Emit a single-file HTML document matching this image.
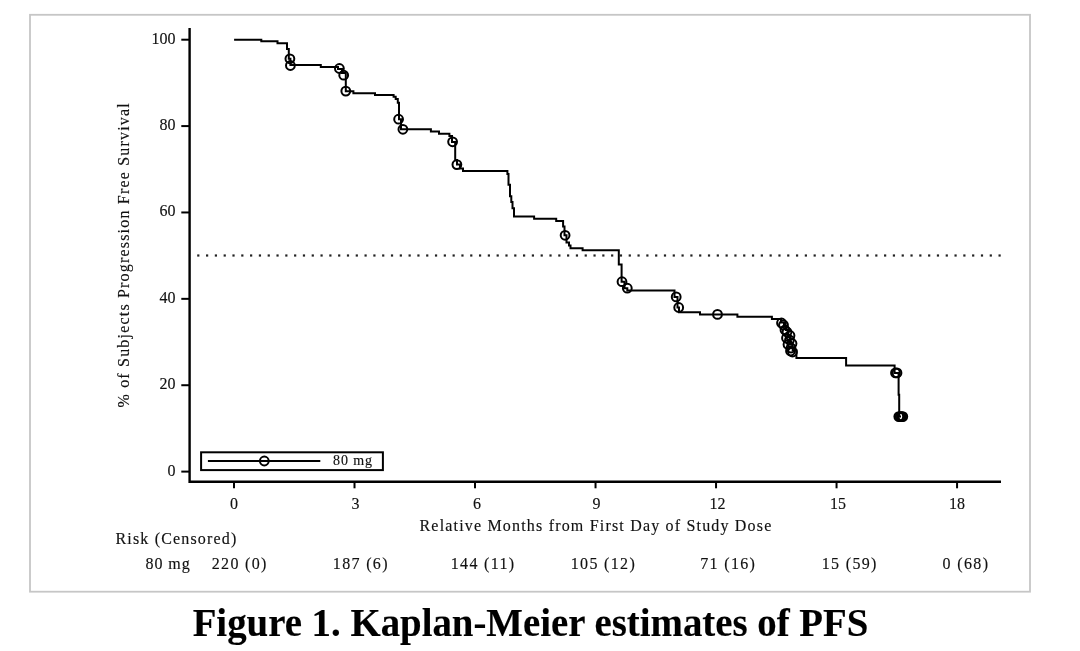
<!DOCTYPE html>
<html><head><meta charset="utf-8"><style>
html,body{margin:0;padding:0;background:#fff;width:1080px;height:651px;overflow:hidden}
svg{display:block;position:absolute;left:0;top:0;will-change:transform}
text{font-family:"Liberation Serif",serif;fill:#111;stroke:#111;stroke-width:0.15px}
</style></head><body>
<svg width="1080" height="651" viewBox="0 0 1080 651">
<rect x="30" y="14.8" width="1000" height="576.9" fill="none" stroke="#c6c6c6" stroke-width="1.8"/>
<g stroke="#000" stroke-width="2.4" fill="none">
<polyline points="189.6,28 189.6,481.8 1001,481.8"/>
</g>
<g stroke="#000" stroke-width="2" fill="none"><line x1="181.3" y1="471.60" x2="189.6" y2="471.60"/><line x1="181.3" y1="385.22" x2="189.6" y2="385.22"/><line x1="181.3" y1="298.84" x2="189.6" y2="298.84"/><line x1="181.3" y1="212.46" x2="189.6" y2="212.46"/><line x1="181.3" y1="126.08" x2="189.6" y2="126.08"/><line x1="181.3" y1="39.70" x2="189.6" y2="39.70"/><line x1="234.00" y1="481.8" x2="234.00" y2="488.3"/><line x1="354.51" y1="481.8" x2="354.51" y2="488.3"/><line x1="475.02" y1="481.8" x2="475.02" y2="488.3"/><line x1="595.53" y1="481.8" x2="595.53" y2="488.3"/><line x1="716.04" y1="481.8" x2="716.04" y2="488.3"/><line x1="836.55" y1="481.8" x2="836.55" y2="488.3"/><line x1="957.06" y1="481.8" x2="957.06" y2="488.3"/></g>
<g font-size="16"><text x="175.6" y="475.50" text-anchor="end">0</text><text x="175.6" y="389.12" text-anchor="end">20</text><text x="175.6" y="302.74" text-anchor="end">40</text><text x="175.6" y="216.36" text-anchor="end">60</text><text x="175.6" y="129.98" text-anchor="end">80</text><text x="175.6" y="43.60" text-anchor="end">100</text><text x="234.00" y="508.5" text-anchor="middle">0</text><text x="355.51" y="508.5" text-anchor="middle">3</text><text x="477.02" y="508.5" text-anchor="middle">6</text><text x="596.53" y="508.5" text-anchor="middle">9</text><text x="717.54" y="508.5" text-anchor="middle">12</text><text x="838.05" y="508.5" text-anchor="middle">15</text><text x="957.06" y="508.5" text-anchor="middle">18</text></g>
<g fill="#222"><rect x="197.20" y="254.4" width="2.2" height="2.2"/><rect x="206.01" y="254.4" width="2.2" height="2.2"/><rect x="214.81" y="254.4" width="2.2" height="2.2"/><rect x="223.62" y="254.4" width="2.2" height="2.2"/><rect x="232.42" y="254.4" width="2.2" height="2.2"/><rect x="241.23" y="254.4" width="2.2" height="2.2"/><rect x="250.03" y="254.4" width="2.2" height="2.2"/><rect x="258.84" y="254.4" width="2.2" height="2.2"/><rect x="267.64" y="254.4" width="2.2" height="2.2"/><rect x="276.45" y="254.4" width="2.2" height="2.2"/><rect x="285.25" y="254.4" width="2.2" height="2.2"/><rect x="294.06" y="254.4" width="2.2" height="2.2"/><rect x="302.87" y="254.4" width="2.2" height="2.2"/><rect x="311.67" y="254.4" width="2.2" height="2.2"/><rect x="320.48" y="254.4" width="2.2" height="2.2"/><rect x="329.28" y="254.4" width="2.2" height="2.2"/><rect x="338.09" y="254.4" width="2.2" height="2.2"/><rect x="346.89" y="254.4" width="2.2" height="2.2"/><rect x="355.70" y="254.4" width="2.2" height="2.2"/><rect x="364.50" y="254.4" width="2.2" height="2.2"/><rect x="373.31" y="254.4" width="2.2" height="2.2"/><rect x="382.12" y="254.4" width="2.2" height="2.2"/><rect x="390.92" y="254.4" width="2.2" height="2.2"/><rect x="399.73" y="254.4" width="2.2" height="2.2"/><rect x="408.53" y="254.4" width="2.2" height="2.2"/><rect x="417.34" y="254.4" width="2.2" height="2.2"/><rect x="426.14" y="254.4" width="2.2" height="2.2"/><rect x="434.95" y="254.4" width="2.2" height="2.2"/><rect x="443.75" y="254.4" width="2.2" height="2.2"/><rect x="452.56" y="254.4" width="2.2" height="2.2"/><rect x="461.36" y="254.4" width="2.2" height="2.2"/><rect x="470.17" y="254.4" width="2.2" height="2.2"/><rect x="478.98" y="254.4" width="2.2" height="2.2"/><rect x="487.78" y="254.4" width="2.2" height="2.2"/><rect x="496.59" y="254.4" width="2.2" height="2.2"/><rect x="505.39" y="254.4" width="2.2" height="2.2"/><rect x="514.20" y="254.4" width="2.2" height="2.2"/><rect x="523.00" y="254.4" width="2.2" height="2.2"/><rect x="531.81" y="254.4" width="2.2" height="2.2"/><rect x="540.61" y="254.4" width="2.2" height="2.2"/><rect x="549.42" y="254.4" width="2.2" height="2.2"/><rect x="558.23" y="254.4" width="2.2" height="2.2"/><rect x="567.03" y="254.4" width="2.2" height="2.2"/><rect x="575.84" y="254.4" width="2.2" height="2.2"/><rect x="584.64" y="254.4" width="2.2" height="2.2"/><rect x="593.45" y="254.4" width="2.2" height="2.2"/><rect x="602.25" y="254.4" width="2.2" height="2.2"/><rect x="611.06" y="254.4" width="2.2" height="2.2"/><rect x="619.86" y="254.4" width="2.2" height="2.2"/><rect x="628.67" y="254.4" width="2.2" height="2.2"/><rect x="637.47" y="254.4" width="2.2" height="2.2"/><rect x="646.28" y="254.4" width="2.2" height="2.2"/><rect x="655.09" y="254.4" width="2.2" height="2.2"/><rect x="663.89" y="254.4" width="2.2" height="2.2"/><rect x="672.70" y="254.4" width="2.2" height="2.2"/><rect x="681.50" y="254.4" width="2.2" height="2.2"/><rect x="690.31" y="254.4" width="2.2" height="2.2"/><rect x="699.11" y="254.4" width="2.2" height="2.2"/><rect x="707.92" y="254.4" width="2.2" height="2.2"/><rect x="716.72" y="254.4" width="2.2" height="2.2"/><rect x="725.53" y="254.4" width="2.2" height="2.2"/><rect x="734.34" y="254.4" width="2.2" height="2.2"/><rect x="743.14" y="254.4" width="2.2" height="2.2"/><rect x="751.95" y="254.4" width="2.2" height="2.2"/><rect x="760.75" y="254.4" width="2.2" height="2.2"/><rect x="769.56" y="254.4" width="2.2" height="2.2"/><rect x="778.36" y="254.4" width="2.2" height="2.2"/><rect x="787.17" y="254.4" width="2.2" height="2.2"/><rect x="795.97" y="254.4" width="2.2" height="2.2"/><rect x="804.78" y="254.4" width="2.2" height="2.2"/><rect x="813.58" y="254.4" width="2.2" height="2.2"/><rect x="822.39" y="254.4" width="2.2" height="2.2"/><rect x="831.20" y="254.4" width="2.2" height="2.2"/><rect x="840.00" y="254.4" width="2.2" height="2.2"/><rect x="848.81" y="254.4" width="2.2" height="2.2"/><rect x="857.61" y="254.4" width="2.2" height="2.2"/><rect x="866.42" y="254.4" width="2.2" height="2.2"/><rect x="875.22" y="254.4" width="2.2" height="2.2"/><rect x="884.03" y="254.4" width="2.2" height="2.2"/><rect x="892.83" y="254.4" width="2.2" height="2.2"/><rect x="901.64" y="254.4" width="2.2" height="2.2"/><rect x="910.45" y="254.4" width="2.2" height="2.2"/><rect x="919.25" y="254.4" width="2.2" height="2.2"/><rect x="928.06" y="254.4" width="2.2" height="2.2"/><rect x="936.86" y="254.4" width="2.2" height="2.2"/><rect x="945.67" y="254.4" width="2.2" height="2.2"/><rect x="954.47" y="254.4" width="2.2" height="2.2"/><rect x="963.28" y="254.4" width="2.2" height="2.2"/><rect x="972.08" y="254.4" width="2.2" height="2.2"/><rect x="980.89" y="254.4" width="2.2" height="2.2"/><rect x="989.69" y="254.4" width="2.2" height="2.2"/><rect x="998.50" y="254.4" width="2.2" height="2.2"/></g>
<path d="M234.1,39.7 L261.3,39.7 L261.3,41.3 L277.5,41.3 L277.5,43.2 L287,43.2 L287,49.1 L288.8,49.1 L288.8,58.8 L290.4,58.8 L290.4,65 L320.8,65 L320.8,67.1 L338,67.1 L338,69 L342,69 L342,73 L345.8,73 L345.8,91.3 L353.4,91.3 L353.4,93.3 L375,93.3 L375,95 L393.6,95 L393.6,96.8 L395.7,96.8 L395.7,98.9 L397.8,98.9 L397.8,102.7 L399,102.7 L399,119.2 L401,119.2 L401,129.3 L430.9,129.3 L430.9,131.6 L439,131.6 L439,133.7 L449.4,133.7 L449.4,136 L452,136 L452,142 L455.2,142 L455.2,160 L457,160 L457,164.6 L460,164.6 L460,168.6 L463,168.6 L463,170.9 L507.4,170.9 L507.4,174 L508.5,174 L508.5,184.8 L510,184.8 L510,196.3 L511.3,196.3 L511.3,201.9 L512.5,201.9 L512.5,208.3 L514,208.3 L514,216.6 L534.1,216.6 L534.1,218.7 L556.2,218.7 L556.2,220.9 L563.1,220.9 L563.1,226.5 L564.5,226.5 L564.5,235.3 L566.5,235.3 L566.5,242.6 L569,242.6 L569,245.4 L570.5,245.4 L570.5,248.2 L582.6,248.2 L582.6,250.3 L618.8,250.3 L618.8,264.5 L621.6,264.5 L621.6,281.7 L624.5,281.7 L624.5,288.2 L627.3,288.2 L627.3,290.5 L674.5,290.5 L674.5,296.9 L677.5,296.9 L677.5,307.5 L679,307.5 L679,312.2 L700,312.2 L700,314.4 L737.4,314.4 L737.4,316.7 L771.9,316.7 L771.9,318.9 L781,318.9 L781,322.6 L784,322.6 L784,326.7 L786,326.7 L786,330 L788,330 L788,337.3 L790,337.3 L790,344.2 L792.7,344.2 L792.7,350.2 L796.4,350.2 L796.4,358.1 L846.1,358.1 L846.1,365.5 L894.6,365.5 L894.6,372.9 L898.6,372.9 L898.6,394.7 L899.2,394.7 L899.2,416.6 L901,416.6" fill="none" stroke="#000" stroke-width="2" stroke-linejoin="miter"/>
<g fill="none" stroke="#000" stroke-width="2"><circle cx="289.9" cy="58.8" r="4.4"/><circle cx="290.4" cy="65.5" r="4.4"/><circle cx="339.4" cy="68.5" r="4.4"/><circle cx="343.7" cy="75.2" r="4.4"/><circle cx="345.8" cy="91.1" r="4.4"/><circle cx="398.6" cy="119.2" r="4.4"/><circle cx="402.9" cy="129.3" r="4.4"/><circle cx="452.6" cy="141.8" r="4.4"/><circle cx="456.9" cy="164.6" r="4.4"/><circle cx="565.1" cy="235.3" r="4.4"/><circle cx="622" cy="281.7" r="4.4"/><circle cx="627.3" cy="288.2" r="4.4"/><circle cx="676.2" cy="296.9" r="4.4"/><circle cx="678.7" cy="307.5" r="4.4"/><circle cx="717.5" cy="314.4" r="4.4"/><circle cx="781.5" cy="323" r="4.4"/><circle cx="783.5" cy="325" r="4.4"/><circle cx="785" cy="330" r="4.4"/><circle cx="787" cy="332" r="4.4"/><circle cx="786.5" cy="338" r="4.4"/><circle cx="790" cy="335.5" r="4.4"/><circle cx="789.5" cy="340" r="4.4"/><circle cx="788" cy="344.5" r="4.4"/><circle cx="792" cy="343.5" r="4.4"/><circle cx="791" cy="348" r="4.4"/><circle cx="792.5" cy="352" r="4.4"/><circle cx="790.5" cy="351" r="4.4"/><circle cx="895.5" cy="372.9" r="4.4"/><circle cx="897" cy="372.9" r="4.4"/><circle cx="898.8" cy="416.6" r="4.4"/><circle cx="900.2" cy="416.6" r="4.4"/><circle cx="901.5" cy="416.6" r="4.4"/><circle cx="902.8" cy="416.6" r="4.4"/></g>
<rect x="201.1" y="452.3" width="181.8" height="17.8" fill="none" stroke="#000" stroke-width="2"/>
<line x1="207.9" y1="461" x2="320.3" y2="461" stroke="#000" stroke-width="2"/>
<circle cx="264.3" cy="461" r="4.4" fill="none" stroke="#000" stroke-width="2"/>
<text x="333" y="465.3" font-size="14" letter-spacing="0.9">80 mg</text>
<text x="0" y="0" font-size="16" letter-spacing="1.19" text-anchor="middle" transform="translate(128.8,254.8) rotate(-90)">% of Subjects Progression Free Survival</text>
<text x="596" y="530.6" font-size="16" letter-spacing="1.185" text-anchor="middle">Relative Months from First Day of Study Dose</text>
<text x="115.5" y="543.7" font-size="16" letter-spacing="1.17">Risk (Censored)</text>
<text x="145.5" y="568.7" font-size="16" letter-spacing="0.95">80 mg</text>
<g font-size="16"><text x="211.7" y="568.7" letter-spacing="1.35">220 (0)</text><text x="332.8" y="568.7" letter-spacing="1.35">187 (6)</text><text x="450.7" y="568.7" letter-spacing="1.35">144 (11)</text><text x="570.7" y="568.7" letter-spacing="1.35">105 (12)</text><text x="700.2" y="568.7" letter-spacing="1.35">71 (16)</text><text x="821.7" y="568.7" letter-spacing="1.35">15 (59)</text><text x="942.6" y="568.7" letter-spacing="1.35">0 (68)</text></g>
<text x="0" y="0" transform="translate(530.5,636.1) scale(1,1.04)" font-size="38.84" font-weight="bold" text-anchor="middle" style="fill:#000">Figure 1. Kaplan-Meier estimates of PFS</text>
</svg>
</body></html>
